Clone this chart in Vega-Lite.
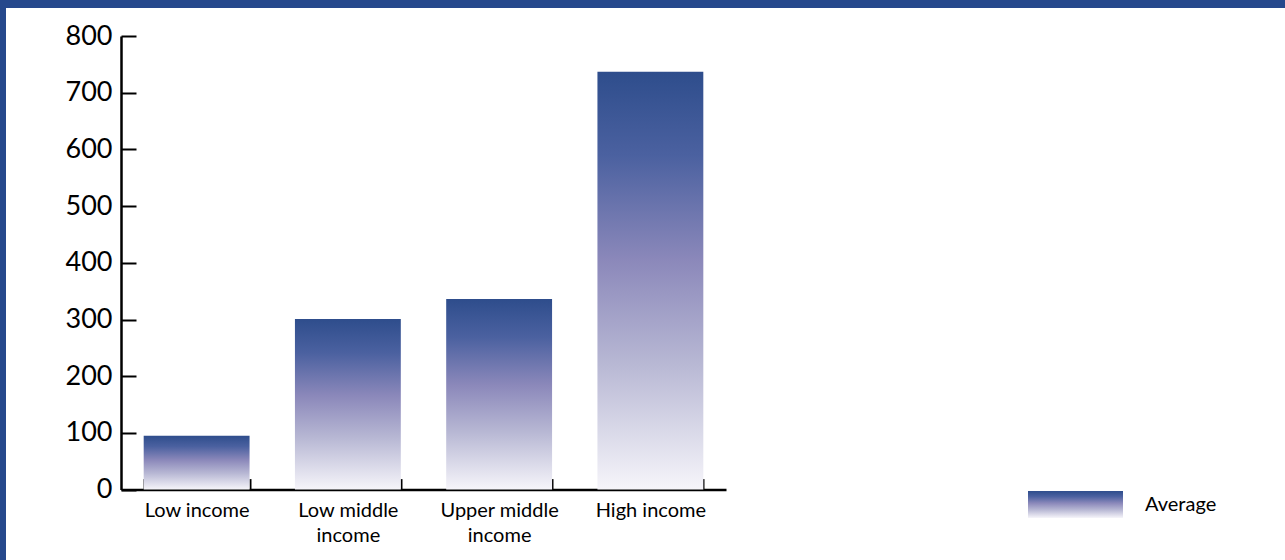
{
  "$schema": "https://vega.github.io/schema/vega-lite/v6.json",
  "width": 1279,
  "height": 552,
  "autosize": {"type": "none"},
  "padding": {"left": 6, "top": 8, "right": 0, "bottom": 0},
  "background": "#26488c",
  "config": {
    "view": {"fill": "white", "stroke": null},
    "font": "Lato",
    "axis": {"grid": false, "domainColor": "black", "tickColor": "black", "labelColor": "black", "titleColor": "black"}
  },
  "data": {
    "values": [
      {"group": "Low income", "value": 95, "series": "Average"},
      {"group": "Low middle income", "value": 301, "series": "Average"},
      {"group": "Upper middle income", "value": 336, "series": "Average"},
      {"group": "High income", "value": 737, "series": "Average"}
    ]
  },
  "mark": {
    "type": "bar",
    "fill": {
      "gradient": "linear",
      "x1": 0, "y1": 0, "x2": 0, "y2": 1,
      "stops": [
        {"offset": 0, "color": "#2e4d8c"},
        {"offset": 0.2, "color": "#4b61a0"},
        {"offset": 0.45, "color": "#8b88ba"},
        {"offset": 0.7, "color": "#b8b8d4"},
        {"offset": 1, "color": "#f6f5fa"}
      ]
    }
  },
  "encoding": {
    "x": {
      "field": "group",
      "type": "nominal",
      "sort": null,
      "title": null,
      "scale": {"range": [115, 720], "paddingInner": 0.3, "paddingOuter": 0.15},
      "axis": {
        "offset": -70.4,
        "labelAngle": 0,
        "labelFontSize": 20,
        "labelLineHeight": 25,
        "labelPadding": 22,
        "tickSize": -11,
        "tickWidth": 2,
        "tickBand": "extent",
        "tickExtra": true,
        "domainWidth": 2.5,
        "labelExpr": "datum.label == 'Low middle income' ? ['Low middle', 'income'] : datum.label == 'Upper middle income' ? ['Upper middle', 'income'] : datum.label"
      }
    },
    "y": {
      "field": "value",
      "type": "quantitative",
      "title": null,
      "scale": {"domain": [0, 800], "range": [481.6, 28], "nice": false},
      "axis": {
        "offset": -115,
        "values": [0, 100, 200, 300, 400, 500, 600, 700, 800],
        "labelFontSize": 27,
        "labelPadding": 24,
        "tickSize": -15,
        "tickWidth": 2,
        "domainWidth": 2.5
      }
    },
    "opacity": {
      "field": "series",
      "type": "nominal",
      "scale": {"range": [1]},
      "legend": {
        "title": null,
        "orient": "none",
        "legendX": 1022,
        "legendY": 449,
        "padding": 0,
        "symbolType": "M-1,-0.284H1V0.284H-1Z",
        "symbolSize": 9025,
        "symbolStrokeWidth": 0,
        "labelFontSize": 20,
        "labelOffset": 22,
        "labelColor": "black"
      }
    }
  }
}
